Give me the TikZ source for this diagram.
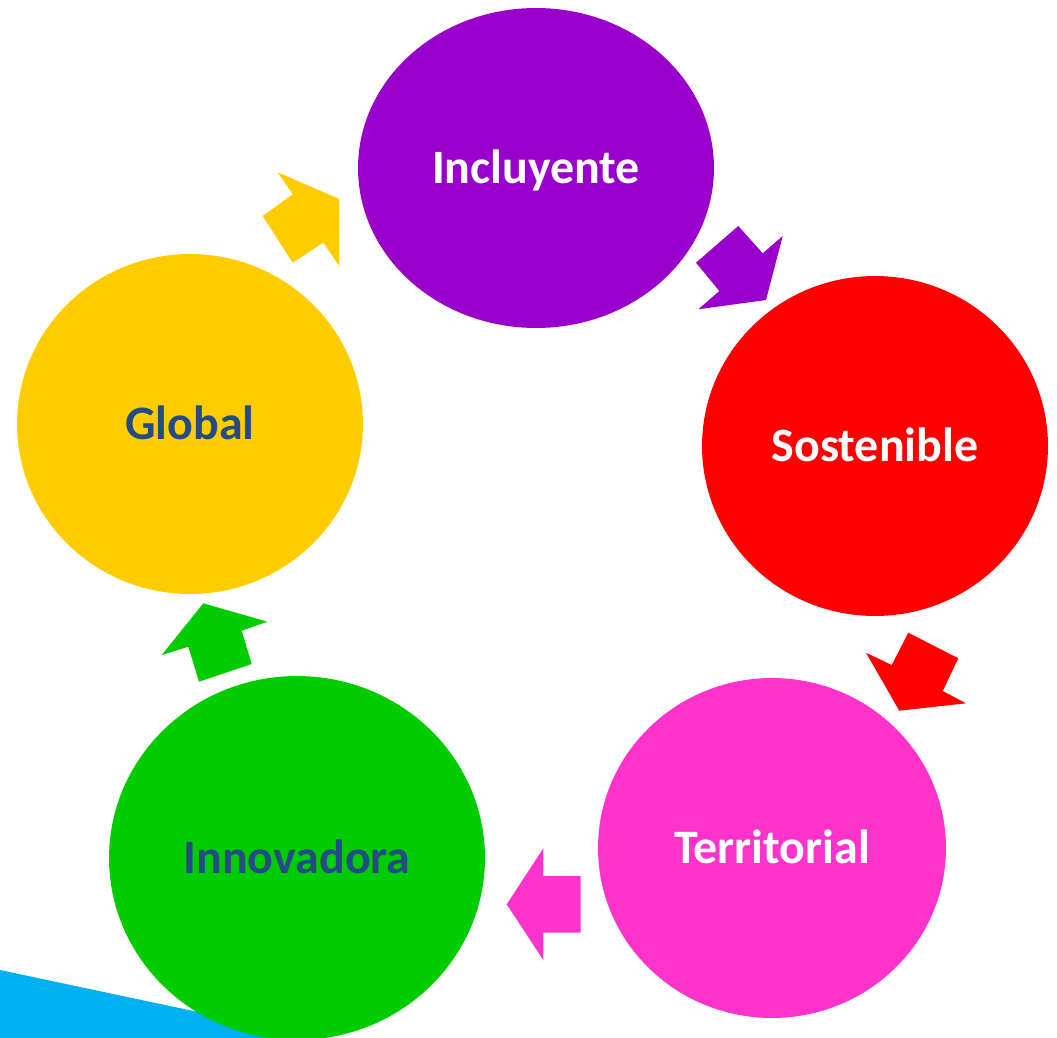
\documentclass[tikz,border=0pt]{standalone}
\usepackage{fontspec}
\setmainfont{Carlito}
\usetikzlibrary{shapes.geometric}
\definecolor{cpurple}{HTML}{9900CC}
\definecolor{cred}{HTML}{FF0000}
\definecolor{cmagenta}{HTML}{FF33CC}
\definecolor{cgreen}{HTML}{00CC00}
\definecolor{cyellow}{HTML}{FFCC00}
\definecolor{cblue}{HTML}{00B0F0}
\definecolor{cdark}{HTML}{244B82}
\tikzset{
  blob/.style={ellipse, inner sep=0pt, text height=0.61cm, text depth=0pt,
    font=\fontsize{27.3}{31}\selectfont\bfseries},
}
\begin{document}
\begin{tikzpicture}[x=0.02cm,y=-0.02cm]
\useasboundingbox (0,0) rectangle (1057,1037);
\begin{scope}
\clip (0,0) rectangle (1057,1037);
\fill[cblue] (0,970) -- (330,1040) -- (0,1040) -- cycle;
\node[blob, fill=cpurple, text=white, minimum width=7.12cm, minimum height=6.4cm] (inc) at (536,168) {Incluyente};
\node[blob, fill=cred, text=white, minimum width=6.92cm, minimum height=6.8cm] (sos) at (875,446) {Sostenible};
\node[blob, fill=cmagenta, text=white, minimum width=6.96cm, minimum height=6.8cm] (ter) at (772,848) {Territorial};
\node[blob, fill=cgreen, text=cdark, minimum width=7.52cm, minimum height=7.28cm] (inn) at (297,858) {Innovadora};
\node[blob, fill=cyellow, text=cdark, minimum width=6.92cm, minimum height=6.8cm] (glo) at (190,424) {Global};
\end{scope}
% block arrows
\fill[cyellow] (277.7,172.3) -- (339.3,199) -- (339.3,266) -- (323.3,242.7) -- (292.7,262.7) -- (262.7,216) -- (292.7,194.3) -- cycle;
\fill[cpurple] (738.3,226) -- (762.7,253.3) -- (782.7,236) -- (766,300) -- (698.3,309.3) -- (719.3,291) -- (696,262.7) -- cycle;
\fill[cred] (908.3,632.7) -- (958.3,658.3) -- (942.7,691) -- (966,703.3) -- (899.3,710.7) -- (866,652.7) -- (891.7,665) -- cycle;
\fill[cmagenta] (543.3,848.3) -- (543.3,876) -- (580.7,876) -- (580.7,932.7) -- (543.3,932.7) -- (543.3,960) -- (506.7,904.3) -- cycle;
\fill[cgreen] (203.3,603.3) -- (267.3,621.7) -- (241.7,630.7) -- (251.7,664) -- (199,681.7) -- (188.3,646.7) -- (161.7,655) -- cycle;
\end{tikzpicture}
\end{document}
